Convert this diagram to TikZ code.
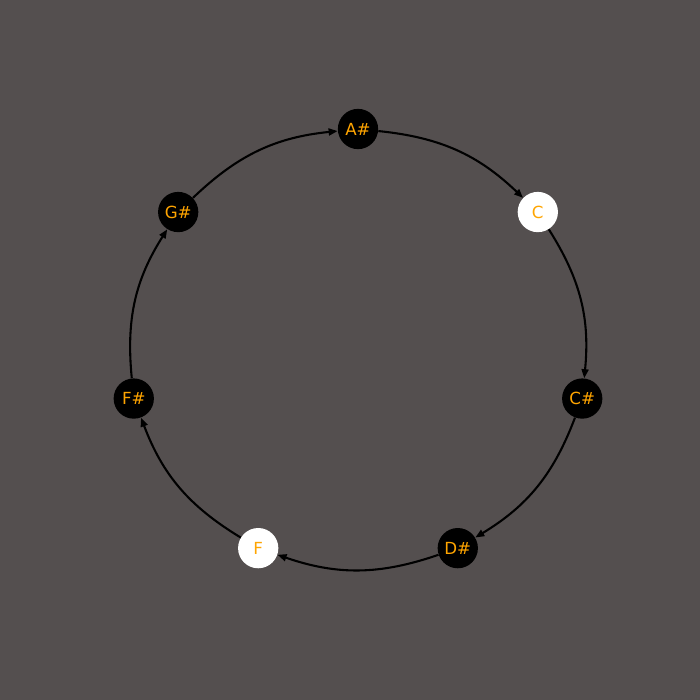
\documentclass[tikz,border=0pt]{standalone}
\usepackage{fontspec}
\setmainfont{DejaVu Sans}
\usepackage{xcolor}
\usetikzlibrary{arrows.meta}
\definecolor{bgrey}{RGB}{84,79,79}
\definecolor{labelorange}{RGB}{255,165,0}
\tikzset{
	note/.style={circle, minimum size=29pt, inner sep=0pt, text=labelorange,
			font=\fontsize{12}{14}\selectfont},
	step arrow/.style={-{Triangle[length=6.5pt,width=5pt]}, line width=1.5pt, black, bend left=19}
}

\begin{document}
\begin{tikzpicture}[x=0.72pt, y=0.72pt]
			% Background
			\fill[bgrey] (0,0) rectangle (700,700);
			\useasboundingbox (0,0) rectangle (700,700);

			% Notes on the ring
			\node[note, fill=black] (as) at ({358+230*sin(0)},   {350.5+220.5*cos(0)})   {A\#};
			\node[note, fill=white] (c)  at ({358+230*sin(360/7)}, {350.5+220.5*cos(360/7)}) {C};
			\node[note, fill=black] (cs) at ({358+230*sin(720/7)}, {350.5+220.5*cos(720/7)}) {C\#};
			\node[note, fill=black] (ds) at ({358+230*sin(1080/7)},{350.5+220.5*cos(1080/7)}) {D\#};
			\node[note, fill=white] (f)  at ({358+230*sin(1440/7)},{350.5+220.5*cos(1440/7)}) {F};
			\node[note, fill=black] (fs) at ({358+230*sin(1800/7)},{350.5+220.5*cos(1800/7)}) {F\#};
			\node[note, fill=black] (gs) at ({358+230*sin(2160/7)},{350.5+220.5*cos(2160/7)}) {G\#};

			% Arrows, clockwise
			\draw[step arrow] (as) to (c);
			\draw[step arrow] (c) to (cs);
			\draw[step arrow] (cs) to (ds);
			\draw[step arrow] (ds) to (f);
			\draw[step arrow] (f) to (fs);
			\draw[step arrow] (fs) to (gs);
			\draw[step arrow] (gs) to (as);
		\end{tikzpicture}
\end{document}
